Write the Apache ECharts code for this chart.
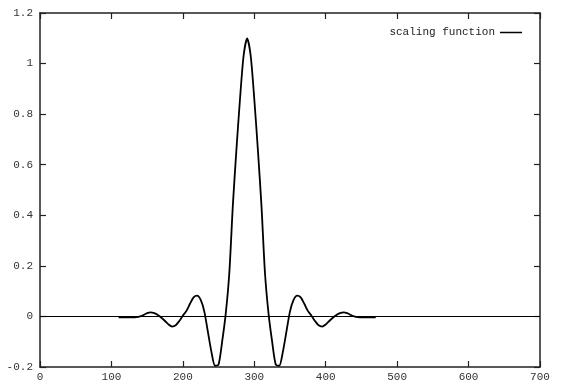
<!DOCTYPE html>
<html>
<head>
<meta charset="utf-8">
<script src="https://cdn.jsdelivr.net/npm/echarts@6/dist/echarts.min.js"></script>
<style>html,body{margin:0;padding:0;background:#fff}#c{width:562px;height:391px}</style>
</head>
<body>
<div id="c"></div>
<script>
const seriesName = 'scaling function';
const xValues = [110,115,120,125,130,135,140,145,150,155,160,165,170,175,180,185,190,195,200,205,210,215,220,225,230,235,240,245,250,255,260,265,270,275,280,285,290,295,300,305,310,315,320,325,330,335,340,345,350,355,360,365,370,375,380,385,390,395,400,405,410,415,420,425,430,435,440,445,450,455,460,465,470];
const yValues = [-0.004,-0.004,-0.004,-0.004,-0.004,-0.003,0.000,0.006,0.013,0.016,0.013,0.006,-0.005,-0.018,-0.032,-0.040,-0.035,-0.018,0.003,0.022,0.050,0.075,0.082,0.065,0.020,-0.060,-0.140,-0.195,-0.190,-0.100,0.010,0.170,0.440,0.660,0.860,1.030,1.100,1.030,0.860,0.660,0.440,0.170,0.010,-0.100,-0.190,-0.195,-0.140,-0.060,0.020,0.065,0.082,0.075,0.050,0.022,0.003,-0.018,-0.035,-0.040,-0.032,-0.018,-0.005,0.006,0.013,0.016,0.013,0.006,0.000,-0.003,-0.004,-0.004,-0.004,-0.004,-0.004];
const xTicks = {min: 0, max: 700, interval: 100};
const yTicks = {min: -0.2, max: 1.2, interval: 0.2};

const FONT = 'Liberation Mono';
const AX = '#222';
const data = xValues.map((x, i) => [x, yValues[i]]);

function xAxisDef(pos, show) {
  return {
    type: 'value', position: pos, min: xTicks.min, max: xTicks.max, interval: xTicks.interval,
    axisLine: {show: true, onZero: false, lineStyle: {color: AX, width: 1.5}},
    axisTick: {show: true, inside: true, length: 6, lineStyle: {color: AX, width: 1.2}},
    axisLabel: {show: show, margin: 5, fontFamily: FONT, fontSize: 11, color: '#333'},
    splitLine: {show: false}
  };
}
function yAxisDef(pos, show) {
  return {
    type: 'value', position: pos, min: yTicks.min, max: yTicks.max, interval: yTicks.interval,
    axisLine: {show: true, onZero: false, lineStyle: {color: AX, width: 1.5}},
    axisTick: {show: true, inside: true, length: 6, lineStyle: {color: AX, width: 1.2}},
    axisLabel: {show: show, margin: 7, fontFamily: FONT, fontSize: 11, color: '#333',
      formatter: v => String(+v.toFixed(1))},
    splitLine: {show: false}
  };
}

const chart = echarts.init(document.getElementById('c'), null, {renderer: 'canvas'});
chart.setOption({
  animation: false,
  backgroundColor: '#fff',
  grid: {left: 40, right: 22, top: 13, bottom: 24, containLabel: false},
  legend: {
    show: true, right: 35, top: 22, align: 'right', icon: 'rect',
    itemWidth: 22, itemHeight: 1.5, itemGap: 6,
    textStyle: {fontFamily: FONT, fontSize: 11, color: '#222'},
    data: [{name: seriesName, itemStyle: {color: '#000'}}]
  },
  xAxis: [xAxisDef('bottom', true), xAxisDef('top', false)],
  yAxis: [yAxisDef('left', true), yAxisDef('right', false)],
  series: [{
    name: seriesName, type: 'line', data: data, smooth: 0.25,
    showSymbol: false, symbol: 'none',
    lineStyle: {color: '#000', width: 1.8},
    itemStyle: {color: '#000'},
    markLine: {
      silent: true, symbol: ['none', 'none'], label: {show: false},
      lineStyle: {color: '#000', width: 1, type: 'solid'},
      data: [{yAxis: 0}]
    },
    z: 3
  }]
});
</script>
</body>
</html>
